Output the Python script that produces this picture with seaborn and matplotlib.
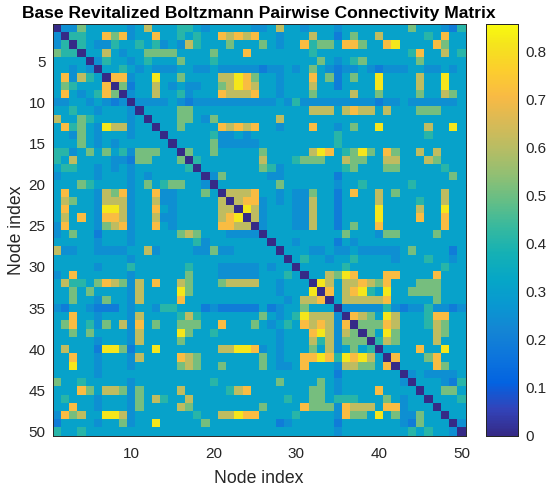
import numpy as np
import matplotlib
matplotlib.use("Agg")
import matplotlib.pyplot as plt
from matplotlib.colors import LinearSegmentedColormap
import seaborn as sns

# Upper triangle of the symmetric connectivity matrix, one string per node
# (row i lists columns i..50). Each digit is a colour level.
upper_rows = [
    "0336444443" "4744455434" "4444334744" "3444344444" "4446444325",
    "0554486834" "4844545448" "7878443444" "7442464474" "444454844",
    "0543354454" "5343754446" "4446434485" "6648864489" "44448644",
    "0447434466" "6644446444" "8444444454" "4444444444" "5844745",
    "0354434544" "4644454444" "4444444464" "3456444444" "644444",
    "0445434333" "4433433333" "2334346432" "3343233344" "33434",
    "0883449446" "4444779864" "4344484624" "6449444474" "4944",
    "0624474343" "3446798744" "3444744244" "4494444744" "944",
    "0344744534" "4487778443" "4446444474" "4644446447" "64",
    "0333343233" "3333333343" "5333333333" "2334333333" "4",
    "0444466444" "4444444444" "4777478774" "7444666444",
    "0444664364" "4444447444" "4444444444" "444444444",
    "0446444487" "8784434448" "4434644944" "44474494",
    "0444445334" "3444444444" "4544444444" "4454444",
    "0444463333" "3444444444" "5444444444" "444444",
    "0644644444" "6444447984" "5696486447" "47444",
    "0544444447" "4445666447" "6644774447" "6444",
    "0444444465" "3444444456" "4446644444" "544",
    "0364444433" "4444442444" "4444444444" "64",
    "0444444464" "4444434454" "4444544444" "4",
    "0777844343" "3644248447" "4644444744",
    "0788343433" "7442444474" "444544744",
    "0973444337" "4424444944" "44744944",
    "0734443374" "4244449444" "4844844",
    "0344433744" "2464484444" "444844",
    "0444444444" "6444366444" "46444",
    "0443444424" "3444444444" "4444",
    "0444334334" "3333346444" "424",
    "0454434454" "4443444544" "34",
    "0444445444" "4444444454" "4",
    "0447698444" "8844448444",
    "0974778768" "444666444",
    "0847895494" "46666444",
    "0477777844" "4446444",
    "0333335323" "353323",
    "0876497444" "58844",
    "0666874445" "7644",
    "0649644447" "644",
    "0576444474" "44",
    "0444484494" "4",
    "0844468444",
    "044448644",
    "03433334",
    "0444325",
    "044664",
    "04445",
    "0444",
    "044",
    "03",
    "0",
]
level_values = {"0": 0.0, "1": 0.15, "2": 0.19, "3": 0.245, "4": 0.31,
                "5": 0.41, "6": 0.51, "7": 0.61, "8": 0.71, "9": 0.82}
n_nodes = 50
x_ticks = [10, 20, 30, 40, 50]
y_ticks = [5, 10, 15, 20, 25, 30, 35, 40, 45, 50]
cbar_ticks = [0, 0.1, 0.2, 0.3, 0.4, 0.5, 0.6, 0.7, 0.8]
v_max = 0.857

matrix = np.zeros((n_nodes, n_nodes))
for i, row in enumerate(upper_rows):
    assert len(row) == n_nodes - i, (i + 1, len(row))
    vals = [level_values[c] for c in row]
    matrix[i, i:] = vals
    matrix[i:, i] = vals

# MATLAB parula, sampled every 4th entry of the 64-colour table
parula_pts = [
    [0.2081, 0.1663, 0.5292], [0.1959, 0.2645, 0.7279], [0.0117, 0.3875, 0.8820],
    [0.0498, 0.4586, 0.8641], [0.0793, 0.5200, 0.8312], [0.0343, 0.5966, 0.8199],
    [0.0228, 0.6535, 0.7768], [0.0843, 0.6928, 0.7062], [0.2178, 0.7250, 0.6193],
    [0.3953, 0.7459, 0.5244], [0.5709, 0.7485, 0.4494], [0.7184, 0.7411, 0.3905],
    [0.8507, 0.7299, 0.3360], [0.9739, 0.7314, 0.2666], [0.9880, 0.8066, 0.1794],
    [0.9589, 0.8949, 0.1132], [0.9763, 0.9831, 0.0538],
]
pos = [k * 4 / 63 for k in range(16)] + [1.0]
parula = LinearSegmentedColormap.from_list("parula", list(zip(pos, parula_pts)))

sns.set_style("white")
plt.rcParams["font.family"] = ["Liberation Sans", "DejaVu Sans"]
edge = "#262626"

fig = plt.figure(figsize=(5.5, 4.88), dpi=100)
ax = fig.add_axes([0.0958, 0.1072, 0.7509, 0.8436])
cax = fig.add_axes([0.8836, 0.1072, 0.0587, 0.8436])

sns.heatmap(matrix, ax=ax, cbar_ax=cax, cmap=parula, vmin=0, vmax=v_max,
            xticklabels=False, yticklabels=False)

ax.set_xticks([t - 0.5 for t in x_ticks])
ax.set_xticklabels([str(t) for t in x_ticks])
ax.set_yticks([t - 0.5 for t in y_ticks])
ax.set_yticklabels([str(t) for t in y_ticks], rotation=0)
ax.tick_params(direction="in", length=3.5, width=0.6, color=edge, labelsize=11,
               labelcolor=edge, top=True, right=True)
ax.tick_params(axis="x", pad=8)
ax.tick_params(axis="y", pad=5)
for s in ax.spines.values():
    s.set_visible(True)
    s.set_color(edge)
    s.set_linewidth(0.7)

ax.set_xlabel("Node index", fontsize=12.7, color=edge, labelpad=6.5)
ax.set_ylabel("Node index", fontsize=12.7, color=edge, labelpad=2.5)
ax.set_title("Base Revitalized Boltzmann Pairwise Connectivity Matrix",
             fontsize=12.6, fontweight="bold", color="black", pad=4)

cax.set_yticks(cbar_ticks)
cax.set_yticklabels(["0"] + [f"{t:.1f}" for t in cbar_ticks[1:]])
cax.tick_params(direction="in", length=3.5, width=0.6, color=edge, labelsize=11,
                labelcolor=edge, pad=5)
for s in cax.spines.values():
    s.set_visible(True)
    s.set_color(edge)
    s.set_linewidth(0.7)

fig.savefig("out.png", dpi=100)
